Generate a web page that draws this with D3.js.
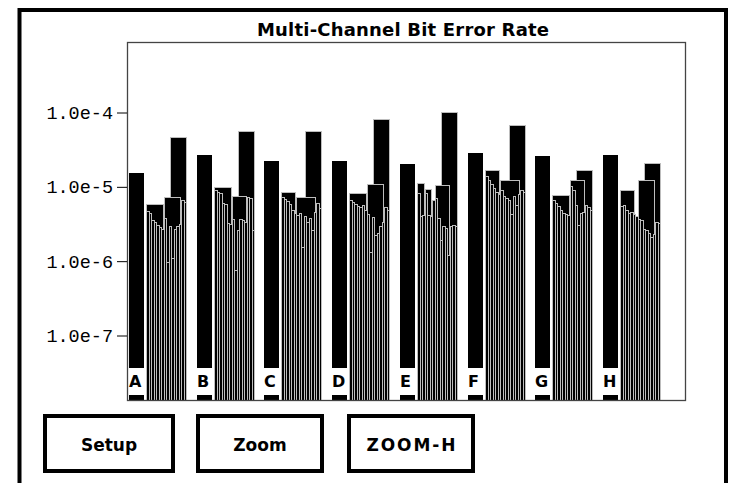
<!DOCTYPE html>
<html>
<head>
<meta charset="utf-8">
<script src="https://cdn.jsdelivr.net/npm/d3@7"></script>
<style>
  html, body { margin: 0; padding: 0; background: #fff; }
  svg { display: block; }
</style>
</head>
<body>
<svg id="chart" width="739" height="483"></svg>
<script>
// ---- data -------------------------------------------------------------
const groups = ["A", "B", "C", "D", "E", "F", "G", "H"];

// overall bit error rate of each group (left solid bar)
const mainRate = [15.3e-6, 26.8e-6, 22.3e-6, 22.3e-6, 20.3e-6, 28.5e-6, 26.0e-6, 26.8e-6];

// peak-hold rate of each group (tall bar at the right of the cluster)
const peakRate = [46.9e-6, 56.4e-6, 56.4e-6, 81.8e-6, 102.5e-6, 67.9e-6, 16.8e-6, 21.1e-6];

// bank rates: [first channel, last channel, rate]
const banksA = [[0, 6, 5.87e-6], [7, 13, 7.30e-6]];
const banksB = [[0, 6, 9.95e-6], [7, 12, 7.53e-6]];
const banksC = [[0, 5, 8.52e-6], [6, 13, 7.30e-6]];
const banksD = [[0, 6, 8.26e-6], [7, 13, 10.92e-6]];
const banksE = [[0, 2, 11.26e-6], [3, 5, 9.35e-6], [7, 12, 10.58e-6]];
const banksF = [[0, 5, 16.84e-6], [6, 13, 12.36e-6]];
const banksG = [[0, 6, 7.77e-6], [7, 12, 12.36e-6]];
const banksH = [[0, 5, 9.06e-6], [7, 13, 12.36e-6]];

// per-channel rates, 16 channels per group (units of 1e-6)
const channelsA = [4.73, 4.45, 3.58, 3.37, 3.07, 2.88, 2.71, 3.81, 0.974, 2.97, 1.10, 2.71, 2.97, 3.16, 6.65, 6.25];
const channelsB = [9.06, 8.52, 8.26, 6.06, 5.87, 3.26, 3.16, 3.69, 0.760, 2.62, 3.69, 3.58, 3.37, 7.30, 7.07, 2.62];
const channelsC = [7.30, 6.86, 6.45, 5.87, 4.88, 4.45, 4.18, 4.45, 1.55, 4.05, 3.37, 3.81, 2.62, 4.59, 6.06, 5.19];
const channelsD = [6.65, 6.25, 5.87, 5.52, 5.35, 5.69, 4.88, 4.31, 1.33, 3.93, 2.25, 2.39, 2.97, 3.37, 5.35, 4.88];
const channelsE = [8.26, 4.05, 4.18, 8.26, 4.18, 4.05, 6.65, 7.07, 3.81, 1.93, 2.97, 2.79, 1.21, 2.97, 3.07, 2.97];
const channelsF = [13.99, 12.36, 10.92, 9.64, 8.52, 8.01, 9.06, 7.53, 7.07, 6.65, 4.31, 7.53, 5.69, 8.01, 9.06, 8.52];
const channelsG = [6.65, 6.06, 5.52, 4.88, 4.45, 4.31, 4.18, 10.26, 9.06, 5.69, 3.07, 4.45, 4.59, 5.69, 5.35, 4.88];
const channelsH = [5.52, 5.69, 4.88, 4.45, 4.59, 4.31, 4.05, 3.69, 3.58, 2.71, 2.62, 2.39, 2.11, 2.32, 3.37, 3.26];

const tickValues = [1e-4, 1e-5, 1e-6, 1e-7];
const tickLabels = ["1.0e-4", "1.0e-5", "1.0e-6", "1.0e-7"];

const titleText = "Multi-Channel Bit Error Rate";
const buttonLabels = ["Setup", "Zoom", "ZOOM-H"];

const bankSets = [banksA, banksB, banksC, banksD, banksE, banksF, banksG, banksH];
const channelSets = [channelsA, channelsB, channelsC, channelsD, channelsE, channelsF, channelsG, channelsH]
  .map(arr => arr.map(v => v * 1e-6));

// ---- layout -----------------------------------------------------------
const svg = d3.select("#chart");
const plot = { left: 127, top: 42, right: 685, bottom: 400 };
const mainBase = 368;           // solid bars stop above the group letter
const outline = "#bdbdbd";

const y = d3.scaleLog().domain([1e-4, 1e-7]).range([112.5, 335.5]);
const gx = d3.scaleBand().domain(groups).range([129, 129 + 8 * 67.7]).padding(0);
const chX = d3.scaleLinear().domain([0, 16]).range([0, 40]);   // channel offset inside a cluster
const mainW = 15, clusterOff = 17, peakW = 16;

// outer panel frame
svg.append("rect")
  .attr("x", 19.5).attr("y", 10).attr("width", 706.5).attr("height", 520)
  .attr("fill", "none").attr("stroke", "#000").attr("stroke-width", 4);

// title
svg.append("text")
  .attr("x", 403).attr("y", 36)
  .attr("text-anchor", "middle")
  .attr("font-family", "DejaVu Sans").attr("font-weight", "bold").attr("font-size", 18)
  .attr("textLength", 292).attr("lengthAdjust", "spacing")
  .text(titleText);

// bars
const bars = svg.append("g").attr("shape-rendering", "crispEdges");

groups.forEach((g, gi) => {
  const x0 = Math.round(gx(g));
  const cs = x0 + clusterOff;
  const ce = Math.round(cs + chX(16));
  const grp = bars.append("g");

  // overall bar
  const mt = Math.round(y(mainRate[gi]));
  grp.append("rect")
    .attr("x", x0).attr("y", mt).attr("width", mainW).attr("height", mainBase - mt)
    .attr("fill", "#000");

  // status marker under the letter
  grp.append("rect")
    .attr("x", x0).attr("y", plot.bottom - 5).attr("width", mainW).attr("height", 5)
    .attr("fill", "#000");

  // peak bar
  const pt = Math.round(y(peakRate[gi]));
  const px = ce - peakW;
  grp.append("rect")
    .attr("x", px + 0.5).attr("y", pt + 0.5).attr("width", peakW).attr("height", plot.bottom - pt)
    .attr("fill", "#000").attr("stroke", outline).attr("stroke-width", 1);

  // bank bars
  grp.selectAll("rect.bank").data(bankSets[gi]).join("rect")
    .attr("class", "bank")
    .attr("x", d => Math.round(cs + chX(d[0])) + 0.5)
    .attr("y", d => Math.round(y(d[2])) + 0.5)
    .attr("width", d => Math.round(cs + chX(d[1] + 1)) - Math.round(cs + chX(d[0])) - 1)
    .attr("height", d => plot.bottom - Math.round(y(d[2])))
    .attr("fill", "#000").attr("stroke", outline).attr("stroke-width", 1);

  // channel bars
  grp.selectAll("rect.ch").data(channelSets[gi]).join("rect")
    .attr("class", "ch")
    .attr("x", (d, i) => Math.round(cs + chX(i)) + 0.5)
    .attr("y", d => Math.round(y(d)) + 0.5)
    .attr("width", (d, i) => Math.round(cs + chX(i + 1)) - Math.round(cs + chX(i)))
    .attr("height", d => plot.bottom - Math.round(y(d)))
    .attr("fill", "#000").attr("stroke", outline).attr("stroke-width", 1);

  // group letter
  svg.append("text")
    .attr("x", x0).attr("y", 387)
    .attr("font-family", "DejaVu Sans").attr("font-weight", "bold").attr("font-size", 16)
    .text(g);
});

// plot frame
svg.append("rect")
  .attr("x", plot.left + 0.5).attr("y", plot.top + 0.5)
  .attr("width", plot.right - plot.left).attr("height", plot.bottom - plot.top)
  .attr("fill", "none").attr("stroke", "#444").attr("stroke-width", 1.3);

// y axis
const axis = d3.axisLeft(y)
  .tickValues(tickValues)
  .tickFormat((d, i) => tickLabels[i])
  .tickSize(10).tickPadding(4);
svg.append("g")
  .attr("transform", `translate(${plot.left},0)`)
  .call(axis)
  .call(a => a.select(".domain").remove())
  .call(a => a.selectAll("text")
    .attr("font-family", "Liberation Mono").attr("font-size", 18.5).attr("fill", "#000"))
  .call(a => a.selectAll("line").attr("stroke", "#000"));

// soft buttons
const btnX = [43, 196, 347], btnW = [132, 128, 128];
buttonLabels.forEach((label, i) => {
  svg.append("rect")
    .attr("x", btnX[i] + 2).attr("y", 416).attr("width", btnW[i] - 4).attr("height", 55)
    .attr("fill", "none").attr("stroke", "#000").attr("stroke-width", 4);
  const t = svg.append("text")
    .attr("x", btnX[i] + btnW[i] / 2).attr("y", 451)
    .attr("text-anchor", "middle")
    .attr("font-family", "DejaVu Sans").attr("font-weight", "bold").attr("font-size", 17)
    .text(label);
  if (label === "ZOOM-H") t.attr("textLength", 89).attr("lengthAdjust", "spacing");
});
</script>
</body>
</html>
